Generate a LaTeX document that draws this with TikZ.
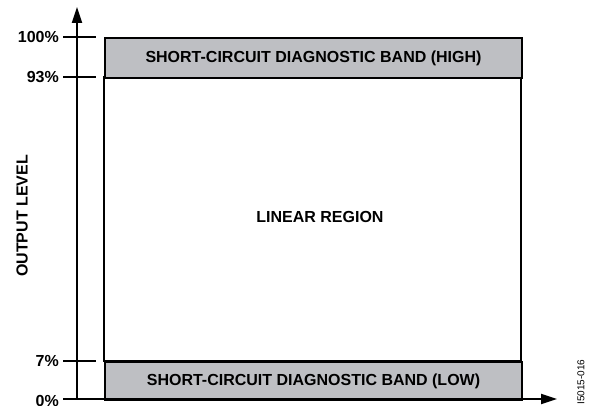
\documentclass[tikz,border=0pt]{standalone}
\usepackage{fontspec}
\setmainfont{Liberation Sans}
\usetikzlibrary{arrows.meta}
\begin{document}
\begin{tikzpicture}[x=1pt,y=-1pt,
  lbl/.style={font=\fontsize{16}{18}\selectfont\bfseries},
  band/.style={draw=black,line width=2pt,fill=bandgray},
  axis/.style={line width=1.8pt,-{Triangle[length=16pt,width=10pt]}},
  tick/.style={line width=1.3pt}]
\definecolor{bandgray}{HTML}{BEBFC3}
\useasboundingbox (0,0) rectangle (590,406);
% boxes
\draw[line width=2pt] (104,77) rectangle (521,361);
\node[band,minimum width=417pt,minimum height=40pt,inner sep=0pt,anchor=north west] (high) at (104,37) {};
\node[band,minimum width=417pt,minimum height=38pt,inner sep=0pt,anchor=north west] (low) at (104,361) {};
\node[lbl] at (high.center) {SHORT-CIRCUIT DIAGNOSTIC BAND (HIGH)};
\node[lbl] at (low.center) {SHORT-CIRCUIT DIAGNOSTIC BAND (LOW)};
\node[lbl] (lin) at (320,217) {LINEAR REGION};
% axes
\coordinate (o) at (77,399);
\coordinate (ytip) at (77,7);
\coordinate (xtip) at (557,399);
\draw[axis] (o) -- (ytip);
\draw[axis] (63,399) -- (xtip);
% ticks
\foreach \yy/\t/\n in {37/100\%/a,77/93\%/b,361/7\%/c}{
  \draw[tick] (63,\yy) -- (96,\yy);
  \node[lbl,anchor=east,inner sep=0pt] (t\n) at (59,\yy) {\t};
}
\node[lbl,anchor=east,inner sep=0pt] (td) at (59,401) {0\%};
\node[lbl,rotate=90,inner sep=0pt] (yl) at (22,216) {OUTPUT LEVEL};
\node[font=\fontsize{10}{11}\selectfont,rotate=90,inner sep=0pt] (id) at (581,382) {I5015-016};
\end{tikzpicture}
\end{document}
